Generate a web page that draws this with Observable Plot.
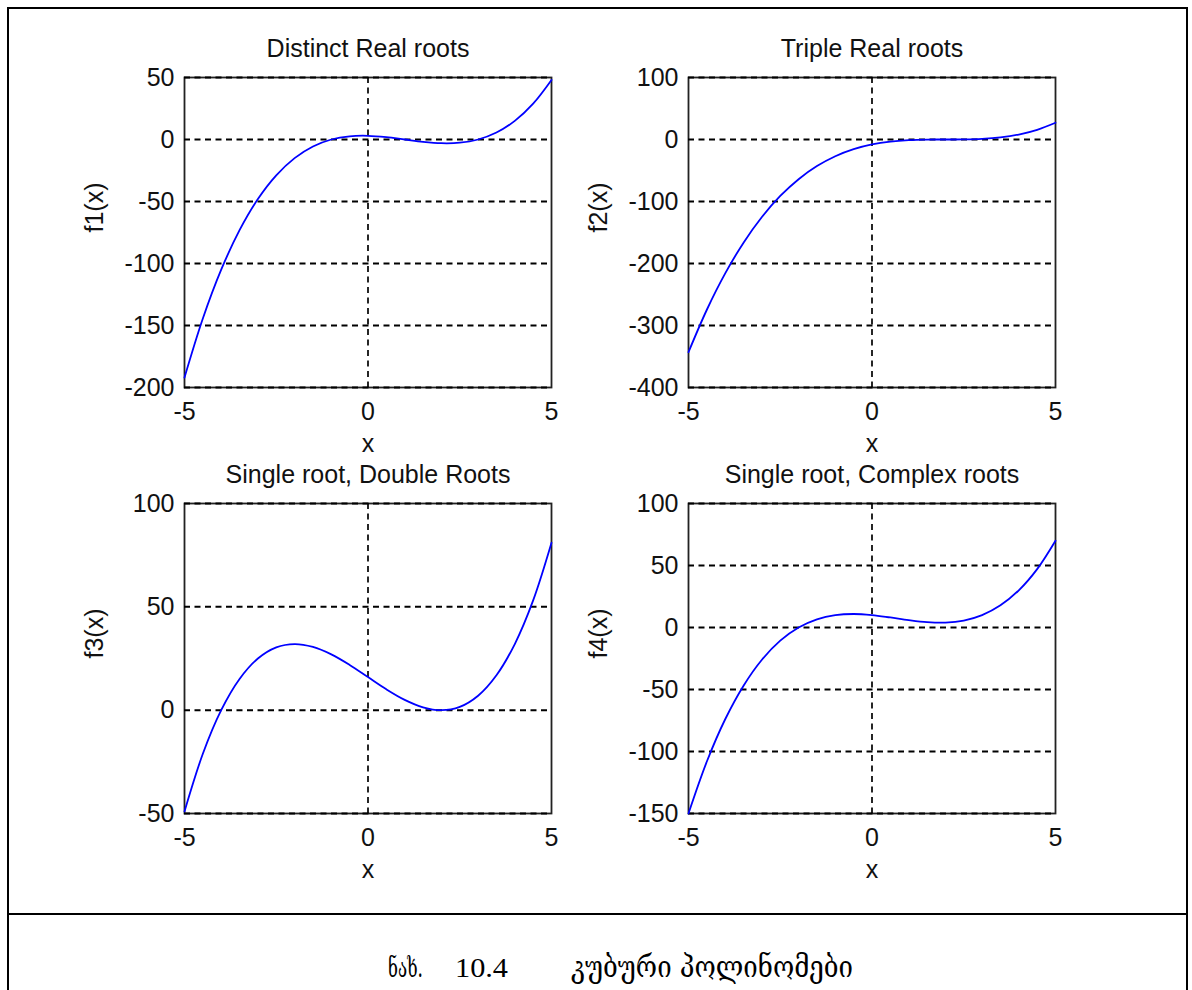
<!DOCTYPE html>
<html>
<head>
<meta charset="utf-8">
<script src="https://cdn.jsdelivr.net/npm/d3@7"></script>
<script src="https://cdn.jsdelivr.net/npm/@observablehq/plot@0.6"></script>
<style>
  html, body { margin: 0; padding: 0; background: #fff; }
  #page { position: relative; width: 1192px; height: 990px; overflow: hidden; background: #fff; }
  #border { position: absolute; left: 7px; top: 7px; width: 1177px; height: 1100px; border: 2.5px solid #000; }
  #divider { position: absolute; left: 7px; top: 912.5px; width: 1181px; height: 2.5px; background: #000; }
  .sub { position: absolute; }
  .sub svg { overflow: visible; }
  #caption { position: absolute; left: 0; top: 915px; }
</style>
</head>
<body>
<div id="page">
  <div id="border"></div>
  <div id="divider"></div>
  <svg id="caption" width="1192" height="75"></svg>
</div>
<script>
// ---- data ----
const xValues = [-5, -4.5, -4, -3.5, -3, -2.5, -2, -1.5, -1, -0.5, 0, 0.5, 1, 1.5, 2, 2.5, 3, 3.5, 4, 4.5, 5];
const f1Values = [-192, -144.4, -105, -73.1, -48, -28.9, -15, -5.6, 0, 2.6, 3, 1.9, 0, -1.9, -3, -2.6, 0, 5.6, 15, 28.9, 48];
const f2Values = [-343, -274.6, -216, -166.4, -125, -91.1, -64, -42.9, -27, -15.6, -8, -3.4, -1, -0.1, 0, 0.1, 1, 3.4, 8, 15.6, 27];
const f3Values = [-49, -21.1, 0, 15.1, 25, 30.4, 32, 30.6, 27, 21.9, 16, 10.1, 5, 1.4, 0, 1.6, 7, 16.9, 32, 53.1, 81];
const f4Values = [-150, -108.1, -74, -46.9, -26, -10.6, 0, 6.6, 10, 10.9, 10, 8.1, 6, 4.4, 4, 5.6, 10, 17.9, 30, 47.1, 70];

const titles = ["Distinct Real roots", "Triple Real roots", "Single root, Double Roots", "Single root, Complex roots"];
const yLabels = ["f1(x)", "f2(x)", "f3(x)", "f4(x)"];
const xLabel = "x";
const xTicks = [-5, 0, 5];
const yTicks1 = [-200, -150, -100, -50, 0, 50];
const yTicks2 = [-400, -300, -200, -100, 0, 100];
const yTicks3 = [-50, 0, 50, 100];
const yTicks4 = [-150, -100, -50, 0, 50, 100];
const captionLabel = "ნახ.";
const captionNumber = "10.4";
const captionText = "კუბური პოლინომები";

// ---- layout ----
const series = [f1Values, f2Values, f3Values, f4Values];
const yTickSets = [yTicks1, yTicks2, yTicks3, yTicks4];
const frameLefts = [184, 688];
const frameTops = [77, 503];
const frameW = 367, frameH = 310;
const mL = 110, mR = 20, mT = 50, mB = 75;
const font = "'Liberation Sans', Arial, Helvetica, sans-serif";
const fs = 25;
const page = document.getElementById("page");

series.forEach((vals, i) => {
  const col = i % 2, row = Math.floor(i / 2);
  const ticks = yTickSets[i];
  const data = xValues.map((x, k) => ({x, y: vals[k]}));
  const chart = Plot.plot({
    width: mL + frameW + mR,
    height: mT + frameH + mB,
    marginLeft: mL, marginRight: mR, marginTop: mT, marginBottom: mB,
    style: {fontFamily: font, fontSize: fs + "px", color: "#111", background: "transparent"},
    x: {domain: [-5, 5]},
    y: {domain: [ticks[0], ticks[ticks.length - 1]]},
    marks: [
      Plot.frame({stroke: "#222", strokeWidth: 1.8}),
      Plot.ruleY(ticks, {stroke: "#000", strokeWidth: 2, strokeDasharray: "6,4.5"}),
      Plot.ruleX([0], {stroke: "#000", strokeWidth: 1.7, strokeDasharray: "6,4.5"}),
      Plot.line(data, {x: "x", y: "y", stroke: "#0000ff", strokeWidth: 1.8, curve: "catmull-rom"}),
      Plot.axisX({ticks: xTicks, tickSize: 0, tickPadding: 15, label: null, fontSize: fs, tickFormat: d => String(d).replace("−", "-")}),
      Plot.axisY({ticks: ticks, tickSize: 0, tickPadding: 10, label: null, fontSize: fs, tickFormat: d => String(d).replace("−", "-")}),
      Plot.text([titles[i]], {frameAnchor: "top", dy: -21, lineAnchor: "bottom", fontSize: fs, fill: "#111"}),
      Plot.text([xLabel], {frameAnchor: "bottom", dy: 56, lineAnchor: "middle", fontSize: fs, fill: "#111"}),
      Plot.text([yLabels[i]], {frameAnchor: "left", dx: -90, rotate: -90, lineAnchor: "middle", fontSize: fs, fill: "#111"})
    ]
  });
  const wrap = document.createElement("div");
  wrap.className = "sub";
  wrap.style.left = (frameLefts[col] - mL) + "px";
  wrap.style.top = (frameTops[row] - mT) + "px";
  wrap.appendChild(chart);
  page.appendChild(wrap);
});

// ---- caption ----
const cap = d3.select("#caption");
const base = 62;
cap.append("text").attr("x", 388).attr("y", base)
  .attr("font-family", "'DejaVu Serif', 'DejaVu Sans', serif").attr("font-size", 27)
  .attr("textLength", 35).attr("lengthAdjust", "spacingAndGlyphs").text(captionLabel);
cap.append("text").attr("x", 455).attr("y", base)
  .attr("font-family", "'Liberation Serif', 'Times New Roman', Times, serif").attr("font-size", 28)
  .attr("textLength", 53).attr("lengthAdjust", "spacingAndGlyphs").text(captionNumber);
cap.append("text").attr("x", 571).attr("y", base)
  .attr("font-family", "'DejaVu Serif', 'DejaVu Sans', serif").attr("font-size", 29)
  .attr("textLength", 282).attr("lengthAdjust", "spacingAndGlyphs").text(captionText);
</script>
</body>
</html>
